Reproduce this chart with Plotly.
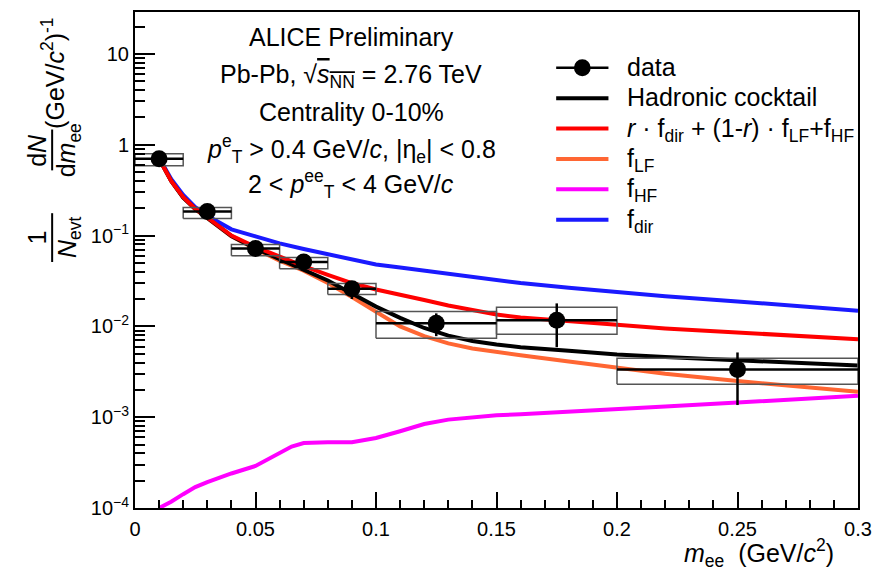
import plotly.graph_objects as go

# ---------------- data ----------------
mass = [0.01, 0.03, 0.05, 0.07, 0.09, 0.125, 0.175, 0.25]
half_bin = [0.01, 0.01, 0.01, 0.01, 0.01, 0.025, 0.025, 0.05]
yield_ = [0.70, 0.184, 0.072, 0.051, 0.026, 0.0108, 0.0117, 0.00336]
stat_up = [0.03, 0.010, 0.004, 0.004, 0.005, 0.0031, 0.0062, 0.0018]
stat_dn = [0.03, 0.010, 0.004, 0.004, 0.006, 0.0030, 0.0058, 0.0020]
sys_lo = [0.588, 0.154, 0.060, 0.043, 0.0225, 0.0074, 0.0082, 0.0023]
sys_hi = [0.796, 0.204, 0.0796, 0.0572, 0.0297, 0.0146, 0.0162, 0.00445]

m_curve = [0.01, 0.015, 0.02, 0.025, 0.03, 0.035, 0.04, 0.05, 0.06, 0.07, 0.08,
           0.09, 0.10, 0.11, 0.12, 0.13, 0.14, 0.15, 0.16, 0.18, 0.20, 0.22,
           0.25, 0.28, 0.30]
f_dir = [0.72, 0.42, 0.28, 0.205, 0.165, 0.138, 0.117, 0.098, 0.082, 0.071, 0.062,
         0.055, 0.048, 0.0445, 0.041, 0.038, 0.035, 0.032, 0.030, 0.0266, 0.0238,
         0.0214, 0.0188, 0.0162, 0.0149]
f_comb = [0.70, 0.40, 0.265, 0.198, 0.158, 0.125, 0.100, 0.075, 0.058, 0.046, 0.037,
          0.030, 0.0255, 0.0225, 0.0195, 0.0170, 0.0150, 0.0135, 0.0125, 0.0113, 0.0104,
          0.0095, 0.0086, 0.0077, 0.0072]
f_lf = [0.70, 0.40, 0.262, 0.195, 0.155, 0.122, 0.098, 0.071, 0.053, 0.041, 0.030,
        0.021, 0.0145, 0.0100, 0.0078, 0.0065, 0.0057, 0.0052, 0.0048, 0.0041, 0.0035,
        0.0030, 0.0025, 0.0021, 0.0019]
cocktail = [0.70, 0.40, 0.262, 0.196, 0.156, 0.123, 0.099, 0.072, 0.055, 0.043, 0.032,
            0.023, 0.0165, 0.0124, 0.0096, 0.0079, 0.0069, 0.0063, 0.0059, 0.0054, 0.0049,
            0.0046, 0.0042, 0.0039, 0.0037]

m_hf = [0.01, 0.015, 0.02, 0.025, 0.03, 0.035, 0.04, 0.05, 0.055, 0.06, 0.065, 0.07,
        0.075, 0.08, 0.09, 0.10, 0.11, 0.12, 0.13, 0.14, 0.15, 0.16, 0.18, 0.20,
        0.22, 0.25, 0.28, 0.30]
f_hf = [1.0e-4, 1.17e-4, 1.42e-4, 1.70e-4, 1.93e-4, 2.17e-4, 2.40e-4, 2.9e-4, 3.45e-4,
        4.0e-4, 4.75e-4, 5.2e-4, 5.3e-4, 5.3e-4, 5.3e-4, 5.9e-4, 7.0e-4, 8.4e-4, 9.4e-4,
        1.0e-3, 1.05e-3, 1.08e-3, 1.16e-3, 1.23e-3, 1.31e-3, 1.45e-3, 1.62e-3, 1.72e-3]

ytick_vals = [1e-4, 1e-3, 1e-2, 1e-1, 1, 10]
ytick_text = ["10<sup>\u22124</sup>", "10<sup>\u22123</sup>", "10<sup>\u22122</sup>",
              "10<sup>\u22121</sup>", "1", "10"]

legend_labels = ["data", "Hadronic cocktail",
                 "<i>r</i> \u00b7 f<sub>dir</sub> + (1-<i>r</i>) \u00b7 f<sub>LF</sub>+f<sub>HF</sub>",
                 "f<sub>LF</sub>", "f<sub>HF</sub>", "f<sub>dir</sub>"]
legend_colors = ["black", "black", "#ff0000", "#ff6633", "#ff00ff", "#1a1aff"]

FONT = "Liberation Sans, Arial, Helvetica, sans-serif"
C_DIR, C_HF, C_LF, C_COCK, C_COMB = "#1a1aff", "#ff00ff", "#ff6633", "black", "#ff0000"

fig = go.Figure()

# curves (draw order: blue, magenta, orange, black, red)
fig.add_trace(go.Scatter(x=m_curve, y=f_dir, mode="lines", name="f_dir",
                         line=dict(color=C_DIR, width=4)))
fig.add_trace(go.Scatter(x=m_hf, y=f_hf, mode="lines", name="f_HF",
                         line=dict(color=C_HF, width=4)))
fig.add_trace(go.Scatter(x=m_curve, y=f_lf, mode="lines", name="f_LF",
                         line=dict(color=C_LF, width=4)))
fig.add_trace(go.Scatter(x=m_curve, y=cocktail, mode="lines", name="Hadronic cocktail",
                         line=dict(color=C_COCK, width=4)))
fig.add_trace(go.Scatter(x=m_curve, y=f_comb, mode="lines", name="combined",
                         line=dict(color=C_COMB, width=4)))

# systematic boxes
bx, by = [], []
for m, h, lo, hi in zip(mass, half_bin, sys_lo, sys_hi):
    bx += [m - h, m + h, m + h, m - h, m - h, None]
    by += [lo, lo, hi, hi, lo, None]
fig.add_trace(go.Scatter(x=bx, y=by, mode="lines", name="syst.",
                         line=dict(color="#555555", width=1.5), hoverinfo="skip"))

# data points
fig.add_trace(go.Scatter(
    x=mass, y=yield_, mode="markers", name="data",
    marker=dict(color="black", size=17),
    error_x=dict(type="data", array=half_bin, color="black", thickness=2.5, width=0),
    error_y=dict(type="data", array=stat_up, arrayminus=stat_dn, symmetric=False,
                 color="black", thickness=2.5, width=0)))


def px(xp):
    return (xp - 135) / 733


def py(yp):
    return (508 - yp) / 498


# legend (drawn by hand for ROOT-like spacing)
leg_y = [66, 96.5, 127, 157.5, 188, 218.5]
for i, (lab, col, yp) in enumerate(zip(legend_labels, legend_colors, leg_y)):
    lw = 2.5 if i == 0 else 4
    fig.add_shape(type="line", xref="paper", yref="paper", x0=px(562), x1=px(615),
                  y0=py(yp), y1=py(yp), line=dict(color=col, width=lw))
    if i == 0:
        fig.add_shape(type="circle", xref="paper", yref="paper",
                      x0=px(588.5 - 8.5), x1=px(588.5 + 8.5),
                      y0=py(yp - 8.5), y1=py(yp + 8.5),
                      fillcolor="black", line=dict(color="black", width=0))
    off = 1 if "<sub>" in lab else -1
    fig.add_annotation(text=lab, xref="paper", yref="paper", x=px(632), y=py(yp + off),
                       xanchor="left", yanchor="middle", showarrow=False,
                       font=dict(family=FONT, size=25, color="black"))

# text block
lines = [
    "ALICE Preliminary",
    "Pb-Pb, \u221a<span style=\"text-decoration:overline\"><i>s</i><sub>NN</sub></span> = 2.76 TeV",
    "Centrality 0-10%",
    "<i>p</i><sup>e</sup><sub>T</sub> > 0.4 GeV/<i>c</i>, |\u03b7<sub>e</sub>| < 0.8",
    "2 < <i>p</i><sup>ee</sup><sub>T</sub> < 4 GeV/<i>c</i>",
]
ypix = [35, 74, 110, 148, 183]
for t, yp in zip(lines, ypix):
    fig.add_annotation(text=t, xref="paper", yref="paper",
                       x=px(354), y=py(yp),
                       xanchor="center", yanchor="middle", showarrow=False,
                       font=dict(family=FONT, size=25, color="black"))

# y-axis title pieces (rotated)
ytitle = [
    ("1", 36, 236),
    ("<i>N</i><sub>evt</sub>", 68, 236),
    ("d<i>N</i>", 36, 149),
    ("d<i>m</i><sub>ee</sub>", 68, 149),
    ("(GeV/<i>c</i><sup>2</sup>)<sup>-1</sup>", 52, 72),
]
for t, xp, yp in ytitle:
    fig.add_annotation(text=t, xref="paper", yref="paper", x=px(xp), y=py(yp),
                       xanchor="center", yanchor="middle", textangle=-90,
                       showarrow=False, font=dict(family=FONT, size=25, color="black"))
for y0, y1 in [(212, 261), (128, 169)]:
    fig.add_shape(type="line", xref="paper", yref="paper", x0=px(51), x1=px(51),
                  y0=py(y0), y1=py(y1), line=dict(color="black", width=2))

# x-axis title
fig.add_annotation(text="<i>m</i><sub>ee</sub>  (GeV/<i>c</i><sup>2</sup>)",
                   xref="paper", yref="paper", x=px(845), y=py(572),
                   xanchor="right", yanchor="bottom", showarrow=False, borderpad=0,
                   font=dict(family=FONT, size=25, color="black"))

minor_y = [k * 10.0 ** e for e in range(-4, 2) for k in range(2, 10)]

fig.update_layout(
    width=882, height=573,
    margin=dict(l=135, r=14, t=10, b=65),
    paper_bgcolor="white", plot_bgcolor="white",
    font=dict(family=FONT, color="black"),
    showlegend=False,
    xaxis=dict(range=[0, 0.3], tick0=0, dtick=0.05, ticks="inside", ticklen=16,
               tickwidth=2, tickcolor="black", showline=True, linewidth=2,
               linecolor="black", mirror=True, showgrid=False, zeroline=False,
               ticklabelstandoff=2,
               tickfont=dict(size=20, family=FONT),
               minor=dict(dtick=0.01, ticks="inside", ticklen=8, tickwidth=2,
                          tickcolor="black", showgrid=False)),
    yaxis=dict(type="log", range=[-4, 1.4615], tickmode="array", tickvals=ytick_vals,
               ticktext=ytick_text, ticks="inside", ticklen=20, tickwidth=2,
               tickcolor="black", showline=True, linewidth=2, linecolor="black",
               mirror=True, showgrid=False, zeroline=False,
               tickfont=dict(size=20, family=FONT),
               minor=dict(tickmode="array", tickvals=minor_y, ticks="inside",
                          ticklen=10, tickwidth=2, tickcolor="black", showgrid=False)),
)

fig.write_html("out.html")
